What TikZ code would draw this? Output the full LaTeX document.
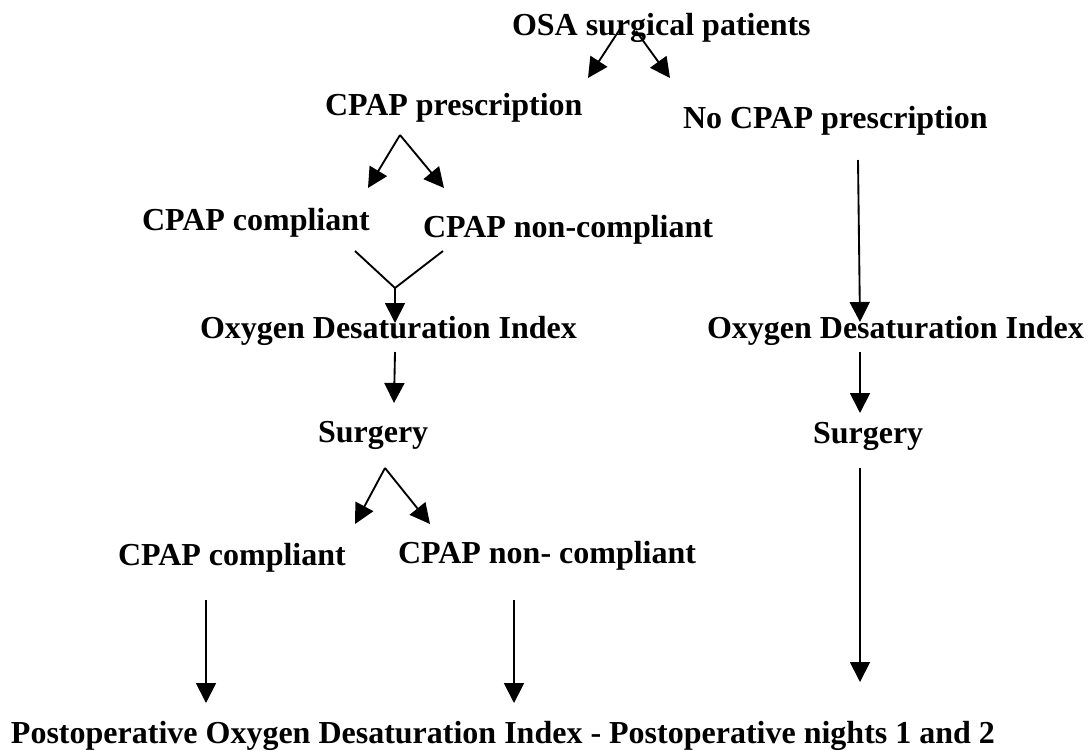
\documentclass[tikz,border=0pt]{standalone}
\usepackage{fontspec}
\setmainfont{Liberation Serif}
\usetikzlibrary{arrows.meta}
\begin{document}
\begin{tikzpicture}[x=0.75pt,y=-0.75pt,
  lbl/.style={anchor=base west,inner sep=0pt,outer sep=0pt,font=\fontsize{24pt}{28pt}\selectfont\bfseries},
  conn/.style={line width=1.4pt,black},
  arr/.style={conn,-{Triangle[length=15pt,width=15pt]}}]
\useasboundingbox (0,0) rectangle (1092,750);
% text nodes
\node[lbl] (osa)   at (512,35)  {OSA surgical patients};
\node[lbl] (cpres) at (325,115) {CPAP prescription};
\node[lbl] (ncpres) at (683,128) {No CPAP prescription};
\node[lbl] (comp1) at (142,230) {CPAP compliant};
\node[lbl] (ncomp1) at (423,237) {CPAP non-compliant};
\node[lbl] (odiL)  at (200,338) {Oxygen Desaturation Index};
\node[lbl] (odiR)  at (707,338) {Oxygen Desaturation Index};
\node[lbl] (surgL) at (318,442) {Surgery};
\node[lbl] (surgR) at (813,443) {Surgery};
\node[lbl] (comp2) at (118,565) {CPAP compliant};
\node[lbl] (ncomp2) at (398,563) {CPAP non- compliant};
\node[lbl] (post)  at (11,743)  {Postoperative Oxygen Desaturation Index - Postoperative nights 1 and 2};
% connector end points
\coordinate (osaL) at (620,29);
\coordinate (osaR) at (636,31);
\coordinate (cpresTipL) at (588,78);
\coordinate (ncpresTip) at (670,78);
\coordinate (cpresApex) at (400,135);
\coordinate (comp1Tip) at (368,188);
\coordinate (ncomp1Tip) at (444,188);
\coordinate (comp1Out) at (355,251);
\coordinate (ncomp1Out) at (443,251);
\coordinate (merge) at (395,288);
\coordinate (odiLTip) at (395,323);
\coordinate (odiLOut) at (395,352);
\coordinate (surgLTip) at (394,403);
\coordinate (surgLApex) at (385,468);
\coordinate (comp2Tip) at (355,524);
\coordinate (ncomp2Tip) at (430,524);
\coordinate (comp2Out) at (206,600);
\coordinate (postTipL) at (206,703);
\coordinate (ncomp2Out) at (514,600);
\coordinate (postTipM) at (514,703);
\coordinate (ncpresOut) at (858,160);
\coordinate (odiRTip) at (860,322);
\coordinate (odiROut) at (860,352);
\coordinate (surgRTip) at (860,413);
\coordinate (surgROut) at (860,468);
\coordinate (postTipR) at (860,682);
% connectors
\draw[arr] (osaL) -- (cpresTipL);
\draw[arr] (osaR) -- (ncpresTip);
\draw[arr] (cpresApex) -- (comp1Tip);
\draw[arr] (cpresApex) -- (ncomp1Tip);
\draw[conn] (comp1Out) -- (merge) -- (ncomp1Out);
\draw[arr] (merge) -- (odiLTip);
\draw[arr] (odiLOut) -- (surgLTip);
\draw[arr] (surgLApex) -- (comp2Tip);
\draw[arr] (surgLApex) -- (ncomp2Tip);
\draw[arr] (comp2Out) -- (postTipL);
\draw[arr] (ncomp2Out) -- (postTipM);
\draw[arr] (ncpresOut) -- (odiRTip);
\draw[arr] (odiROut) -- (surgRTip);
\draw[arr] (surgROut) -- (postTipR);
\end{tikzpicture}
\end{document}
